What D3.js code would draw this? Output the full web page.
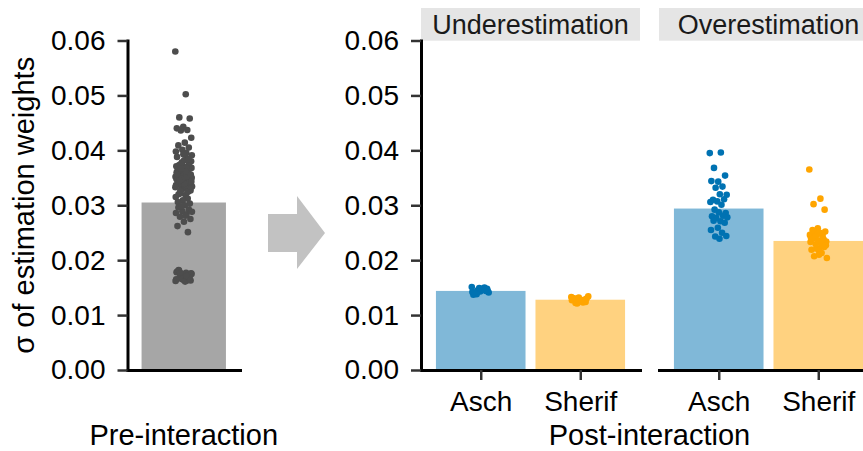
<!DOCTYPE html>
<html>
<head>
<meta charset="utf-8">
<script src="https://cdn.jsdelivr.net/npm/d3@7"></script>
<style>
  body { margin: 0; background: #fff; }
  svg { font-family: 'Liberation Sans', Arial, sans-serif; }
</style>
</head>
<body>
<svg id="chart" width="863" height="451"></svg>
<script>
const preCategory = ['Pre-interaction']
const facets = ['Underestimation', 'Overestimation']
const groups = ['Asch', 'Sherif']
const yTicks = [0, 0.01, 0.02, 0.03, 0.04, 0.05, 0.06]

// bar heights (means)
const preMean = [0.0305]
const underMeans = [0.0144, 0.0128]
const overMeans = [0.0294, 0.0235]

// individual groups
const prePoints = [
  0.0580, 0.0502, 0.0460, 0.0458, 0.0443, 0.0440, 0.0437, 0.0436, 0.0423, 0.0414, 0.0409, 0.0405, 0.0401, 0.0398,
  0.0395, 0.0372, 0.0351, 0.0338, 0.0362, 0.0345, 0.0329, 0.0391, 0.0356, 0.0341, 0.0367, 0.0333, 0.0348, 0.0385,
  0.0359, 0.0336, 0.0370, 0.0344, 0.0325, 0.0378, 0.0352, 0.0339, 0.0364, 0.0347, 0.0331, 0.0388, 0.0355, 0.0342,
  0.0368, 0.0335, 0.0320, 0.0375, 0.0350, 0.0337, 0.0361, 0.0346, 0.0327, 0.0382, 0.0357, 0.0340, 0.0366, 0.0334,
  0.0318, 0.0373, 0.0349, 0.0343, 0.0360, 0.0332, 0.0322, 0.0380, 0.0353, 0.0338, 0.0365, 0.0344, 0.0315, 0.0369,
  0.0354, 0.0330, 0.0358, 0.0347, 0.0312, 0.0376, 0.0350, 0.0336, 0.0363, 0.0341, 0.0309, 0.0371, 0.0352, 0.0326,
  0.0356, 0.0339, 0.0306, 0.0383, 0.0348, 0.0333, 0.0362, 0.0345, 0.0303, 0.0393, 0.0357, 0.0324, 0.0367, 0.0343,
  0.0300, 0.0296, 0.0292, 0.0289, 0.0286, 0.0283, 0.0279, 0.0275, 0.0270, 0.0262, 0.0251, 0.0298, 0.0288, 0.0281,
  0.0181, 0.0174, 0.0167, 0.0178, 0.0163, 0.0171, 0.0176, 0.0165, 0.0180, 0.0169, 0.0173, 0.0162, 0.0177, 0.0168,
  0.0172, 0.0164, 0.0179, 0.0170, 0.0166, 0.0175, 0.0161, 0.0182, 0.0168, 0.0174, 0.0165, 0.0171, 0.0177, 0.0163
]
const underAsch = [0.0151, 0.0146, 0.0140, 0.0148, 0.0143, 0.0137, 0.0150, 0.0145, 0.0141, 0.0147,
  0.0139, 0.0144, 0.0149, 0.0142, 0.0146, 0.0138, 0.0144, 0.0148, 0.0141, 0.0145]
const underSherif = [0.0133, 0.0127, 0.0122, 0.0130, 0.0125, 0.0131, 0.0128, 0.0121, 0.0134, 0.0126,
  0.0129, 0.0124, 0.0132, 0.0127, 0.0123, 0.0130]
const overAsch = [0.0395, 0.0396, 0.0368, 0.0354, 0.0343, 0.0344, 0.0334, 0.0332, 0.0319, 0.0320,
  0.0310, 0.0311, 0.0307, 0.0306, 0.0301, 0.0292, 0.0286, 0.0287, 0.0280, 0.0281, 0.0277, 0.0278,
  0.0271, 0.0272, 0.0268, 0.0259, 0.0255, 0.0250, 0.0243, 0.0244, 0.0239]
const overSherif = [0.0365, 0.0312, 0.0302, 0.0292, 0.0258, 0.0241, 0.0226, 0.0249, 0.0234, 0.0216,
  0.0255, 0.0238, 0.0221, 0.0246, 0.0231, 0.0207, 0.0252, 0.0236, 0.0219, 0.0244, 0.0229, 0.0204,
  0.0250, 0.0240, 0.0224, 0.0247, 0.0233, 0.0213, 0.0243, 0.0227, 0.0210, 0.0239]

const colors = {
  pre: { bar: '#a6a6a6', dot: '#4d4d4d' },
  Asch: { bar: '#80b8d8', dot: '#0072b2' },
  Sherif: { bar: '#ffd280', dot: '#ffa500' },
}

const svg = d3.select('#chart')
const y = d3.scaleLinear().domain([0, 0.06]).range([370, 40.5])

// deterministic jitter (golden ratio sequence), in units of the step
const jitter = (i) => (((i * 0.6180339887) % 1) * 2 - 1) * 0.09

function drawPanel({ x0, x1, cats, means, points, palette, yAxis, xTicks, strip }) {
  const x = d3.scalePoint().domain(cats).range([x0, x1]).padding(0.6)
  const bw = x.step() * 0.9
  const g = svg.append('g')

  if (strip) {
    g.append('rect')
      .attr('x', x0).attr('y', 8)
      .attr('width', x1 - x0).attr('height', 32.7)
      .attr('fill', '#e5e5e5')
    g.append('text')
      .attr('x', (x0 + x1) / 2).attr('y', 34)
      .attr('text-anchor', 'middle')
      .attr('font-size', 27)
      .attr('fill', '#1a1a1a')
      .text(strip)
  }

  g.selectAll('.bar')
    .data(cats)
    .enter()
    .append('rect')
    .attr('class', 'bar')
    .attr('x', (d) => x(d) - bw / 2)
    .attr('y', (d, i) => y(means[i]))
    .attr('width', bw)
    .attr('height', (d, i) => y(0) - y(means[i]))
    .attr('fill', (d, i) => palette[i].bar)

  cats.forEach((c, ci) => {
    g.selectAll(null)
      .data(points[ci])
      .enter()
      .append('circle')
      .attr('cx', (d, i) => x(c) + jitter(i) * x.step())
      .attr('cy', (d) => y(d))
      .attr('r', 3.3)
      .attr('fill', palette[ci].dot)
  })

  const xAxis = g.append('g')
    .attr('transform', `translate(0, ${y(0)})`)
    .call(d3.axisBottom(x).tickSize(xTicks ? 10 : 0).tickSizeOuter(0).tickPadding(11))
  xAxis.select('.domain').attr('stroke', '#000').attr('stroke-width', 3).attr('stroke-linecap', 'square')
  xAxis.selectAll('.tick line').attr('stroke', '#333').attr('stroke-width', 2.5)
  xAxis.selectAll('.tick text')
    .attr('font-size', 28).attr('fill', '#000')
    .text((d) => (xTicks ? d : ''))

  if (yAxis) {
    const ya = g.append('g')
      .attr('transform', `translate(${x0}, 0)`)
      .call(d3.axisLeft(y).tickValues(yTicks).tickFormat(d3.format('.2f'))
        .tickSize(10).tickSizeOuter(0).tickPadding(12))
    ya.select('.domain').attr('stroke', '#000').attr('stroke-width', 3).attr('stroke-linecap', 'square')
    ya.selectAll('.tick line').attr('stroke', '#333').attr('stroke-width', 2.5)
    ya.selectAll('.tick text').attr('font-size', 28).attr('fill', '#000')
  }
  return x
}

// Pre-interaction panel
drawPanel({
  x0: 127.5, x1: 240,
  cats: preCategory,
  means: preMean,
  points: [prePoints],
  palette: [colors.pre],
  yAxis: true,
  xTicks: false,
})

// Post-interaction facets
drawPanel({
  x0: 421, x1: 640,
  cats: groups,
  means: underMeans,
  points: [underAsch, underSherif],
  palette: [colors.Asch, colors.Sherif],
  yAxis: true,
  xTicks: true,
  strip: facets[0],
})
drawPanel({
  x0: 659, x1: 878,
  cats: groups,
  means: overMeans,
  points: [overAsch, overSherif],
  palette: [colors.Asch, colors.Sherif],
  yAxis: false,
  xTicks: true,
  strip: facets[1],
})

// arrow between the two halves
svg.append('path')
  .attr('d', 'M268,214H297V196L325,233L297,269V252H268Z')
  .attr('fill', '#c2c2c2')

// titles
svg.append('text')
  .attr('transform', `translate(34, ${(y(0) + y(0.06)) / 2}) rotate(-90)`)
  .attr('text-anchor', 'middle')
  .attr('font-size', 29)
  .text('σ of estimation weights')
svg.append('text')
  .attr('x', 183.75).attr('y', 445)
  .attr('text-anchor', 'middle')
  .attr('font-size', 29)
  .text(preCategory[0])
svg.append('text')
  .attr('x', 649.5).attr('y', 445)
  .attr('text-anchor', 'middle')
  .attr('font-size', 29)
  .text('Post-interaction')
</script>
</body>
</html>
